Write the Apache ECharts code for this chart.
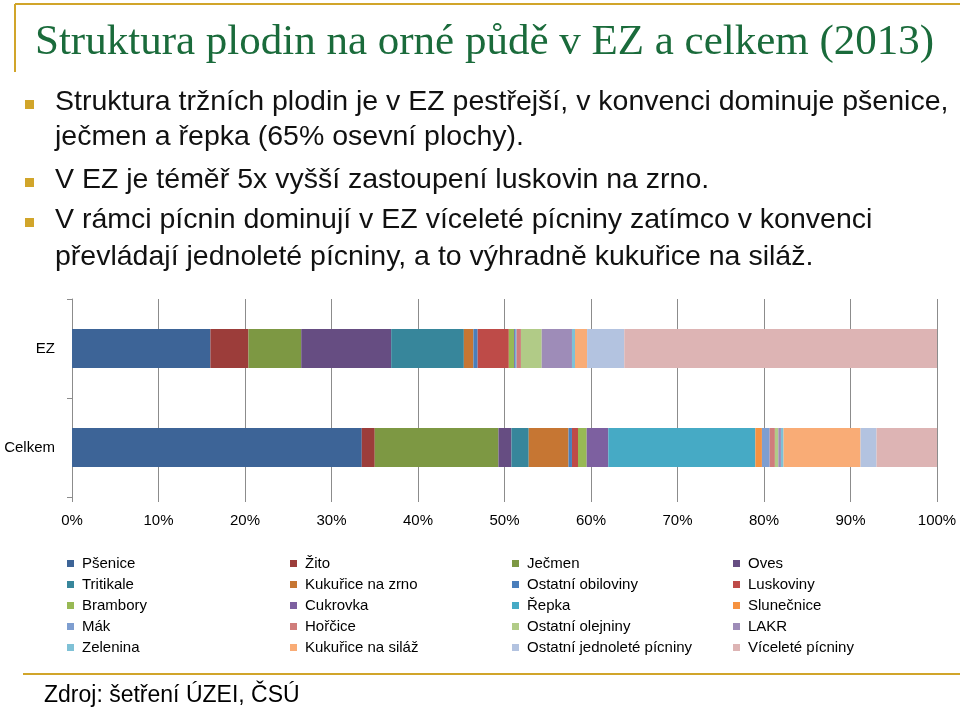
<!DOCTYPE html>
<html><head><meta charset="utf-8">
<script src="https://cdn.jsdelivr.net/npm/echarts@6/dist/echarts.min.js"></script>
<style>html,body{margin:0;padding:0;background:#fff}#c{width:960px;height:713px}</style>
</head><body><div id="c"></div>
<script>
const categories = ['EZ', 'Celkem'];
const seriesNames = ['Pšenice','Žito','Ječmen','Oves','Tritikale','Kukuřice na zrno','Ostatní obiloviny','Luskoviny','Brambory','Cukrovka','Řepka','Slunečnice','Mák','Hořčice','Ostatní olejniny','LAKR','Zelenina','Kukuřice na siláž','Ostatní jednoleté pícniny','Víceleté pícniny'];
// values in % of arable land: [EZ, Celkem]
const psenice = [16.0, 33.5];
const zito = [4.4, 1.5];
const jecmen = [6.1, 14.3];
const oves = [10.4, 1.5];
const tritikale = [8.4, 2.0];
const kukuriceZrno = [1.1, 4.6];
const ostatniObiloviny = [0.5, 0.4];
const luskoviny = [3.6, 0.7];
const brambory = [0.6, 1.0];
const cukrovka = [0.1, 2.5];
const repka = [0.1, 17.0];
const slunecnice = [0.0, 0.76];
const mak = [0.1, 0.9];
const horcice = [0.5, 0.6];
const ostatniOlejniny = [2.4, 0.4];
const lakr = [3.5, 0.3];
const zelenina = [0.35, 0.3];
const kukuriceSilaz = [1.4, 8.9];
const ostatniJednoletePicniny = [4.3, 1.85];
const viceletePicniny = [36.25, 6.99];
const xTicks = { min: 0, max: 100, interval: 10 };

const seriesValues = [psenice, zito, jecmen, oves, tritikale, kukuriceZrno, ostatniObiloviny, luskoviny, brambory, cukrovka, repka, slunecnice, mak, horcice, ostatniOlejniny, lakr, zelenina, kukuriceSilaz, ostatniJednoletePicniny, viceletePicniny];
const colors = ['#3D6497','#9C3D3A','#7D9843','#664D82','#37869B','#C67633','#4A7EBB','#BE4B48','#98B954','#7D60A0','#46AAC5','#F69240','#7E9ED0','#D07D7B','#B1CB87','#9E8CB8','#7FC1D6','#F9AC76','#B3C3E0','#DDB4B4'];

const legendFont = 'Liberation Sans';
const legendCols = [
  { x: 67, items: [0, 4, 8, 12, 16] },
  { x: 290, items: [1, 5, 9, 13, 17] },
  { x: 512, items: [2, 6, 10, 14, 18] },
  { x: 733, items: [3, 7, 11, 15, 19] }
];

const chart = echarts.init(document.getElementById('c'));
const gold = '#D1A52A';
const bodyFont = 'Liberation Sans';
const bulletLines = [
  { y: 103, bullet: true, text: 'Struktura tržních plodin je v EZ pestřejší, v konvenci dominuje pšenice,' },
  { y: 138, bullet: false, text: 'ječmen a řepka (65% osevní plochy).' },
  { y: 181, bullet: true, text: 'V EZ je téměř 5x vyšší zastoupení luskovin na zrno.' },
  { y: 221, bullet: true, text: 'V rámci pícnin dominují v EZ víceleté pícniny zatímco v konvenci' },
  { y: 258, bullet: false, text: 'převládají jednoleté pícniny, a to výhradně kukuřice na siláž.' }
];
const graphics = [
  { type: 'line', shape: { x1: 15, y1: 4, x2: 960, y2: 4 }, style: { stroke: gold, lineWidth: 2 } },
  { type: 'line', shape: { x1: 15, y1: 4, x2: 15, y2: 72 }, style: { stroke: gold, lineWidth: 2 } },
  { type: 'line', shape: { x1: 23, y1: 674, x2: 960, y2: 674 }, style: { stroke: gold, lineWidth: 2 } },
  { type: 'text', left: 35, top: 21, style: { text: 'Struktura plodin na orné půdě v EZ a celkem (2013)', fill: '#1A6B3B', font: '43px "Liberation Serif"' } },
  { type: 'text', left: 44, top: 684, style: { text: 'Zdroj: šetření ÚZEI, ČSÚ', fill: '#000', font: '23px "Liberation Sans"' } }
];
bulletLines.forEach(l => {
  if (l.bullet) graphics.push({ type: 'rect', shape: { x: 25, y: l.y - 3, width: 9, height: 9 }, style: { fill: gold } });
  graphics.push({ type: 'text', left: 55, top: l.y - 15, style: { text: l.text, fill: '#111', font: '28.5px "' + bodyFont + '"' } });
});

const option = {
  animation: false,
  color: colors,
  textStyle: { fontFamily: legendFont },
  grid: { left: 72, right: 23, top: 299, bottom: 216, containLabel: false },
  xAxis: {
    type: 'value', min: xTicks.min, max: xTicks.max, interval: xTicks.interval,
    axisLine: { show: false },
    axisTick: { show: true, length: 5, lineStyle: { color: '#8C8C8C' } },
    splitLine: { show: true, lineStyle: { color: '#8C8C8C', width: 1 } },
    axisLabel: { formatter: '{value}%', color: '#000', fontSize: 15, margin: 16, fontFamily: legendFont }
  },
  yAxis: {
    type: 'category', data: categories, inverse: true,
    axisLine: { show: true, lineStyle: { color: '#8C8C8C' } },
    axisTick: { show: true, length: 5, lineStyle: { color: '#8C8C8C' } },
    axisLabel: { color: '#000', fontSize: 15, margin: 17, fontFamily: legendFont }
  },
  legend: legendCols.map(c => ({
    orient: 'vertical', left: c.x, top: 553, padding: 0,
    itemWidth: 7, itemHeight: 7, itemGap: 0,
    icon: 'rect',
    textStyle: { fontSize: 15, color: '#000', lineHeight: 21, padding: [0, 0, 0, 3], fontFamily: legendFont },
    data: c.items.map(i => seriesNames[i])
  })),
  series: seriesNames.map((n, i) => ({
    name: n, type: 'bar', stack: 'total', barWidth: 39,
    data: seriesValues[i],
    itemStyle: { color: colors[i] }
  })),
  graphic: graphics
};
chart.setOption(option);
</script></body></html>
